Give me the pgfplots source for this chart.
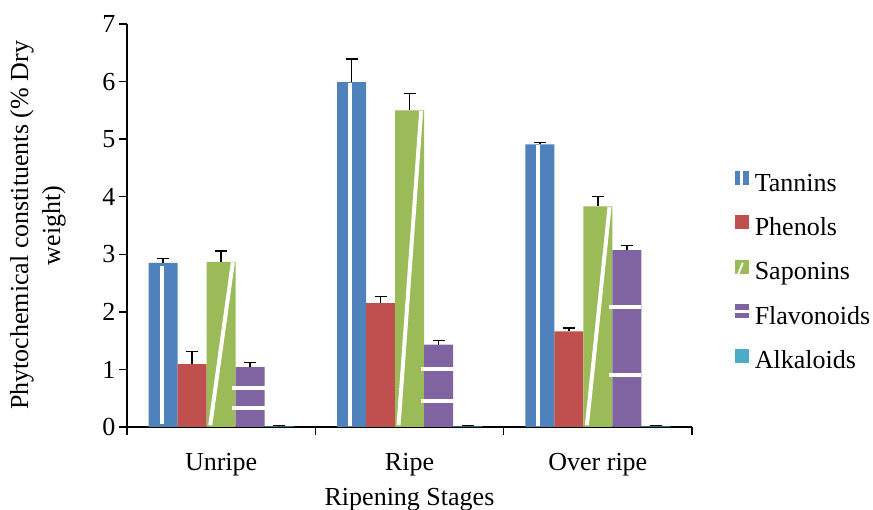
\documentclass[border=0pt]{standalone}
\usepackage{fontspec}
\setmainfont{Liberation Serif}
\usepackage{pgfplots}
\usepackage{pgfplotstable}
\pgfplotsset{compat=1.18}
\definecolor{cTan}{HTML}{4F81BD}
\definecolor{cPhe}{HTML}{C0504D}
\definecolor{cSap}{HTML}{9BBB59}
\definecolor{cFla}{HTML}{8064A2}
\definecolor{cAlk}{HTML}{4BACC6}
\newcommand{\bigfont}{\fontsize{26}{32}\selectfont}
\pgfplotstableread{
x y e
0 2.85 0.08
1 5.99 0.40
2 4.91 0.03
}\tannins
\pgfplotstableread{
x y e
0 1.09 0.22
1 2.15 0.12
2 1.66 0.06
}\phenols
\pgfplotstableread{
x y e
0 2.87 0.19
1 5.50 0.29
2 3.83 0.17
}\saponins
\pgfplotstableread{
x y e
0 1.04 0.08
1 1.43 0.07
2 3.07 0.08
}\flavonoids
\pgfplotstableread{
x y e
0 0.01 0.02
1 0.01 0.02
2 0.01 0.02
}\alkaloids
\pgfplotsset{
  common/.style={
    width=565pt, height=403pt, scale only axis,
    xmin=-0.5, xmax=2.5, ymin=0, ymax=7,
  },
}
\begin{document}
\begin{tikzpicture}
\useasboundingbox (-127pt,-83pt) rectangle (746pt,427pt);
\begin{axis}[
  common,
  ybar=0pt, bar width=29pt,
  axis lines*=left,
  axis line style={line width=1.5pt, black},
  tick align=outside, major tick length=8pt,
  tick style={line width=1.5pt, black},
  ytick={0,1,2,3,4,5,6,7},
  xtick={-0.5,0.5,1.5,2.5}, xticklabels={},
  extra x ticks={0,1,2},
  extra x tick labels={Unripe,Ripe,Over ripe},
  extra x tick style={major tick length=0pt},
  /pgf/number format/assume math mode=true,
  ticklabel style={font=\bigfont},
  xticklabel style={yshift=-23pt},
  every axis x label/.style={at={(axis description cs:0.5,0)}, anchor=center, yshift=-73pt, font=\bigfont},
  every axis y label/.style={at={(axis description cs:0,0.5)}, xshift=-89pt, rotate=90, anchor=center, align=center, font=\bigfont},
  xlabel={Ripening Stages},
  ylabel={Phytochemical constituents (\% Dry\\weight)},
  legend style={draw=none, fill=none, at={(1.07,0.385)}, anchor=west, font=\bigfont, row sep=20.75pt},
  legend cell align=left,
  error bars/error bar style={draw=black, line width=1.5pt},
  error bars/error mark options={draw=black, line width=1.5pt, mark size=6pt, rotate=90},
]
\addplot[fill=cTan, draw=none,
  legend image code/.code={\fill[cTan] (0pt,-2pt) rectangle (14pt,12pt); \fill[white] (5.3pt,-2pt) rectangle (8.3pt,12pt); \path (0pt,0pt) -- (18pt,0pt);},
  error bars/.cd, y dir=plus, y explicit]
  table[x=x, y=y, y error=e] {\tannins};
\addlegendentry{Tannins}
\addplot[fill=cPhe, draw=none,
  legend image code/.code={\fill[cPhe] (0pt,-2pt) rectangle (14pt,12pt); \path (0pt,0pt) -- (18pt,0pt);},
  error bars/.cd, y dir=plus, y explicit]
  table[x=x, y=y, y error=e] {\phenols};
\addlegendentry{Phenols}
\addplot[fill=cSap, draw=none,
  legend image code/.code={\fill[cSap] (0pt,-2pt) rectangle (14pt,12pt); \draw[white, line width=2pt] (3.5pt,-2pt) -- (8pt,9pt); \path (0pt,0pt) -- (18pt,0pt);},
  error bars/.cd, y dir=plus, y explicit]
  table[x=x, y=y, y error=e] {\saponins};
\addlegendentry{Saponins}
\addplot[fill=cFla, draw=none,
  legend image code/.code={\fill[cFla] (0pt,-2pt) rectangle (14pt,12pt); \fill[white] (0pt,3.5pt) rectangle (14pt,6.5pt); \path (0pt,0pt) -- (18pt,0pt);},
  error bars/.cd, y dir=plus, y explicit]
  table[x=x, y=y, y error=e] {\flavonoids};
\addlegendentry{Flavonoids}
\addplot[fill=cAlk, draw=none,
  legend image code/.code={\fill[cAlk] (0pt,-2pt) rectangle (14pt,12pt); \path (0pt,0pt) -- (18pt,0pt);},
  error bars/.cd, y dir=plus, y explicit]
  table[x=x, y=y, y error=e] {\alkaloids};
\addlegendentry{Alkaloids}
\end{axis}
\begin{axis}[common, hide axis]
% white stripes of the pattern fills
\addplot[white, line width=4pt] coordinates {(-0.316,0.05) (-0.316,2.80)};
\addplot[white, line width=4pt] coordinates {(0.684,0.02) (0.684,5.97)};
\addplot[white, line width=4pt] coordinates {(1.684,0.02) (1.684,4.89)};
\addplot[white, line width=4pt] coordinates {(-0.058,0.03) (0.062,2.86)};
\addplot[white, line width=4pt] coordinates {(0.942,0.03) (1.062,5.49)};
\addplot[white, line width=4pt] coordinates {(1.942,0.03) (2.062,3.82)};
\addplot[white, line width=4pt] coordinates {(0.06,0.33) (0.231,0.33)};
\addplot[white, line width=4pt] coordinates {(0.06,0.68) (0.231,0.68)};
\addplot[white, line width=4pt] coordinates {(1.06,0.45) (1.231,0.45)};
\addplot[white, line width=4pt] coordinates {(1.06,1.00) (1.231,1.00)};
\addplot[white, line width=4pt] coordinates {(2.06,0.90) (2.231,0.90)};
\addplot[white, line width=4pt] coordinates {(2.06,2.08) (2.231,2.08)};
\end{axis}
\end{tikzpicture}
\end{document}
